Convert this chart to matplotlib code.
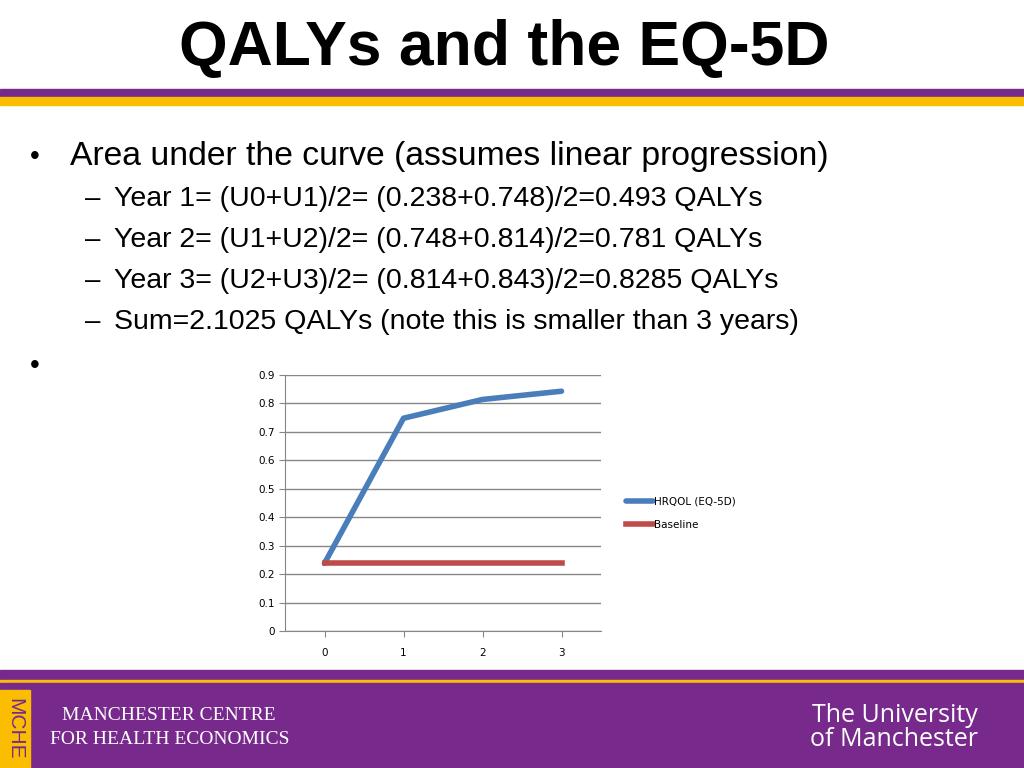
import matplotlib
matplotlib.use("Agg")
import matplotlib.pyplot as plt
from matplotlib.patches import Rectangle

years = [0, 1, 2, 3]
hrqol = [0.238, 0.748, 0.814, 0.843]
baseline = [0.238, 0.238, 0.238, 0.238]
series_names = ["HRQOL (EQ-5D)", "Baseline"]
yticks = [0, 0.1, 0.2, 0.3, 0.4, 0.5, 0.6, 0.7, 0.8, 0.9]

W, H = 1024, 768
fig = plt.figure(figsize=(10.24, 7.68), dpi=100)
PURPLE = "#772a8c"; YELLOW = "#fbbd00"

def rect(x, y, w, h, c):
    fig.patches.append(Rectangle((x / W, 1 - (y + h) / H), w / W, h / H, transform=fig.transFigure, color=c, zorder=0))

rect(0, 89, W, 8, PURPLE)
rect(0, 97, W, 8, YELLOW)
rect(0, 670, W, 10, PURPLE)
rect(0, 680, W, 3, YELLOW)
rect(0, 683, W, 85, PURPLE)
rect(0, 690, 30, 78, YELLOW)

def t(x, y, s, **kw):
    fig.text(x / W, 1 - y / H, s, **kw)

t(504, 48, "QALYs and the EQ-5D", fontsize=45, fontweight="bold", ha="center", va="center", family="Liberation Sans")
t(30, 157, "•", fontsize=20, va="center", family="Liberation Sans")
t(70, 157, "Area under the curve (assumes linear progression)", fontsize=24.3, va="center", family="Liberation Sans")
lines = ["Year 1= (U0+U1)/2= (0.238+0.748)/2=0.493 QALYs",
         "Year 2= (U1+U2)/2= (0.748+0.814)/2=0.781 QALYs",
         "Year 3= (U2+U3)/2= (0.814+0.843)/2=0.8285 QALYs",
         "Sum=2.1025 QALYs (note this is smaller than 3 years)"]
for i, s in enumerate(lines):
    y = 199 + i * 41
    t(85, y, "–", fontsize=20, va="center", family="Liberation Sans")
    t(114, y, s, fontsize=20.5, va="center", family="Liberation Sans")
t(30, 366, "•", fontsize=20, va="center", family="Liberation Sans")

t(15, 729, "MCHE", fontsize=15, rotation=-90, ha="center", va="center", color=PURPLE, family="Liberation Sans")
t(62, 716, "MANCHESTER CENTRE", fontsize=14, va="center", color="white", family="Liberation Serif")
t(50, 740, "FOR HEALTH ECONOMICS", fontsize=14, va="center", color="white", family="Liberation Serif")
t(978, 716, "The University", fontsize=18, ha="right", va="center", color="white", family="Open Sans")
t(978, 739, "of Manchester", fontsize=18, ha="right", va="center", color="white", family="Open Sans")

ax = fig.add_axes([285 / W, 1 - 631 / H, 316 / W, 256 / H])
ax.plot(years, hrqol, color="#4a7ebb", lw=4, label=series_names[0], solid_capstyle="round")
ax.plot(years, baseline, color="#be4b48", lw=4, label=series_names[1])
ax.set_xlim(-0.5, 3.5)
ax.set_ylim(0, 0.9)
ax.set_yticks(yticks)
ax.set_yticklabels(["0"] + [f"{v:.1f}" for v in yticks[1:]])
ax.set_xticks(years)
ax.yaxis.grid(True, color="#868686", lw=1)
ax.set_axisbelow(True)
for s in ["top", "right"]:
    ax.spines[s].set_visible(False)
for s in ["left", "bottom"]:
    ax.spines[s].set_color("#868686")
ax.tick_params(labelsize=7.5, color="#868686", length=4, direction="out")
ax.tick_params(axis="x", pad=8)
ax.legend(loc="center left", bbox_to_anchor=(1.05, 0.46), frameon=False, fontsize=7.5, handlelength=2.6, handletextpad=0.1, labelspacing=1.3)

fig.savefig("out.png", dpi=100)
